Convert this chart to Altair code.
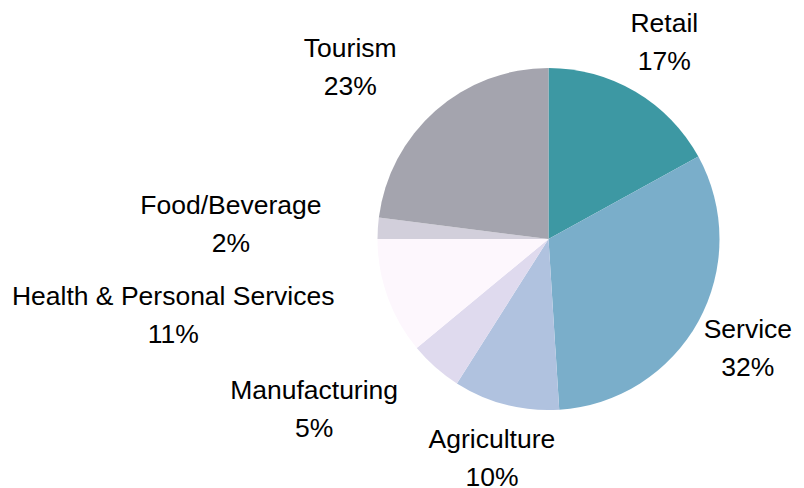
import altair as alt
import pandas as pd

categories = ["Retail", "Service", "Agriculture", "Manufacturing",
              "Health & Personal Services", "Food/Beverage", "Tourism"]
values = [17, 32, 10, 5, 11, 2, 23]
colors = ["#3d98a3", "#7aaeca", "#b0c2df", "#dfdaee", "#fdf7fd", "#d2cfdb", "#a4a4ae"]
label_side = ["center", "center", "center", "right", "right", "right", "right"]

FONT_SIZE = 26.5
# Liberation Sans (Arial-metric) advance widths, per 1000 em
W = {" ": 278, "%": 889, "&": 667, "/": 278, "B": 667, "F": 611, "H": 722, "M": 833,
     "P": 667, "R": 722, "S": 667, "T": 611, "A": 667, "a": 556, "c": 500, "d": 556,
     "e": 556, "f": 278, "g": 556, "h": 556, "i": 222, "l": 222, "m": 833, "n": 556,
     "o": 556, "r": 333, "s": 500, "t": 278, "u": 556, "v": 500, "y": 500, "b": 556,
     "p": 556, "k": 500}


def text_width(s):
    return sum(W.get(ch, 556) for ch in s) / 1000 * FONT_SIZE


df = pd.DataFrame({
    "idx": list(range(len(categories))),
    "category": categories,
    "value": values,
    "side": label_side,
})
df["label"] = [f"{c}\n{v}%" for c, v in zip(categories, values)]
df["half_w"] = [
    (max(text_width(c), text_width(f"{v}%")) / 2 if s == "right" else 0)
    for c, v, s in zip(categories, values, label_side)
]

CX, CY = 540.5, 231
R = 171
LR = 227.5
LH = 38

base = alt.Chart(df)

arcs = base.mark_arc(outerRadius=R).encode(
    x=alt.value(CX),
    y=alt.value(CY),
    theta=alt.Theta("value:Q", stack=True),
    order=alt.Order("idx:Q"),
    color=alt.Color("category:N", scale=alt.Scale(domain=categories, range=colors), legend=None),
)

labels = base.transform_window(
    cum="sum(value)", sort=[alt.SortField("idx")], frame=[None, 0]
).transform_joinaggregate(
    total="sum(value)"
).transform_calculate(
    mid="(datum.cum - datum.value/2) / datum.total * 2 * PI"
).transform_calculate(
    px=f"{CX} + {LR} * sin(datum.mid) - datum.half_w",
    py=f"{CY} - {LR} * cos(datum.mid)",
).mark_text(
    align="center", baseline="middle", font="Liberation Sans", fontSize=FONT_SIZE,
    lineHeight=LH, lineBreak="\n", color="#000000", dy=-LH / 2,
).encode(
    x=alt.X("px:Q", scale=None),
    y=alt.Y("py:Q", scale=None),
    text="label:N",
)

chart = alt.layer(arcs, labels).properties(
    width=788, height=480, padding=0, autosize=alt.AutoSizeParams(type="none"),
).configure_view(stroke=None)

chart.save("out.html", embed_options={"renderer": "svg", "actions": False})
